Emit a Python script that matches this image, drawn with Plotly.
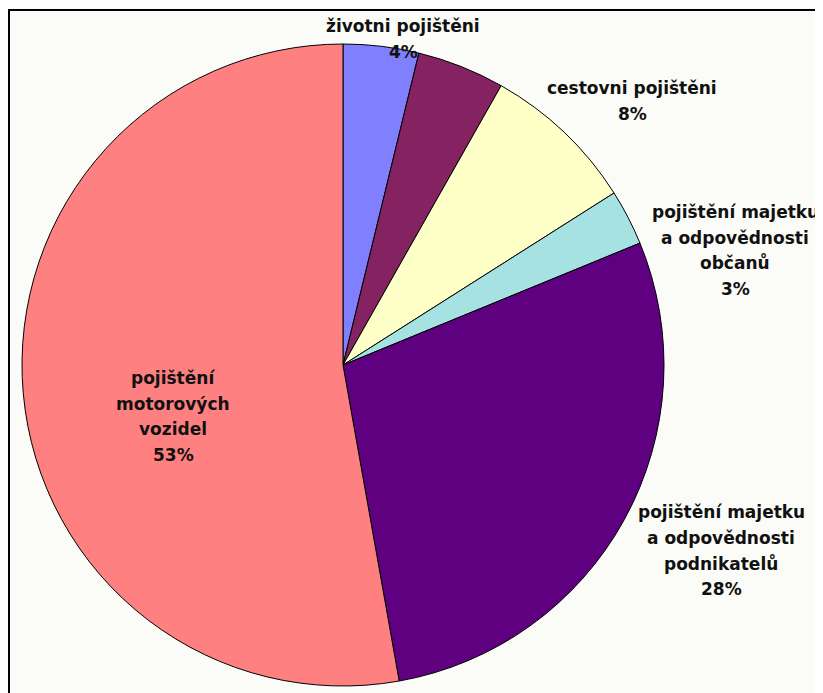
import plotly.graph_objects as go

W, H = 823, 693
OFF = 8  # page body margin offset

# ---- data ----
labels = ["životní pojištění", "ostatní", "cestovní pojištění",
          "pojištění majetku a odpovědnosti občanů",
          "pojištění majetku a odpovědnosti podnikatelů",
          "pojištění motorových vozidel"]
values = [3.8, 4.4, 7.8, 2.8, 28.4, 52.8]
percent_text = ["4%", "", "8%", "3%", "28%", "53%"]
label_lines = [
    ["životni pojištěni"],
    [],
    ["cestovni pojištěni"],
    ["pojištění majetku", "a odpovědnosti", "občanů"],
    ["pojištění majetku", "a odpovědnosti", "podnikatelů"],
    ["pojištění", "motorových", "vozidel"],
]
colors = ["#8080FF", "#842262", "#FFFFC8", "#A6E2E2", "#5E0080", "#FF8080"]

# label block anchor (pixel x center, pixel y of first line), screen coords
label_pos = [(403, 26), None, (632, 88), (735, 212), (721, 512), (173, 378)]
LINE = 25.5


def px(x):
    return (x - OFF) / W


def py(y):
    return 1 - (y - OFF) / H


# ---- pie geometry (screen pixels) ----
cx, cy, r = 343, 365, 321
dom_x = [px(cx - r), px(cx + r)]
dom_y = [py(cy + r), py(cy - r)]

fig = go.Figure(go.Pie(
    labels=labels, values=values, sort=False, direction="clockwise",
    rotation=0, textinfo="none", hoverinfo="label+percent",
    marker=dict(colors=colors, line=dict(color="#000000", width=1)),
    domain=dict(x=dom_x, y=dom_y), showlegend=False,
))

annotations = []
for lines, pct, pos in zip(label_lines, percent_text, label_pos):
    if pos is None:
        continue
    x, y0 = pos
    for i, t in enumerate(lines + [pct]):
        annotations.append(dict(
            x=px(x), y=py(y0 + i * LINE), xref="paper", yref="paper",
            text="<b>" + t + "</b>", showarrow=False, xanchor="center",
            yanchor="middle",
            font=dict(family="DejaVu Sans", size=17, color="#111111"),
        ))

fig.update_layout(
    width=W, height=H, margin=dict(l=0, r=0, t=0, b=0),
    paper_bgcolor="#FFFFFF", plot_bgcolor="#FFFFFF",
    annotations=annotations,
    shapes=[dict(type="rect", xref="paper", yref="paper",
                 x0=px(9), x1=1.05, y0=-0.05, y1=py(10),
                 line=dict(color="#000000", width=2),
                 fillcolor="#FBFCF8", layer="below")],
)

fig.write_html("out.html")
